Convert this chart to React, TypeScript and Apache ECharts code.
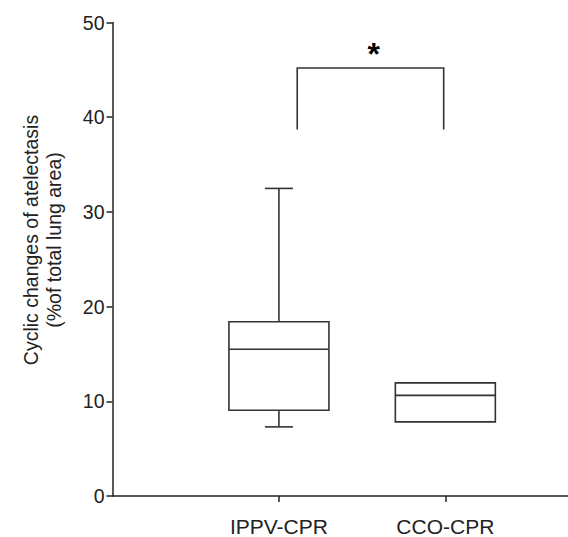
import React, { useEffect, useRef } from "react";
import * as echarts from "echarts";

// Categories placed at x = 1, 2 on a value axis
const categories = ["IPPV-CPR", "CCO-CPR"];
const categoryX = [1, 2];
const whiskerLow = [7.3, 7.83];
const q1 = [9.05, 7.83];
const median = [15.49, 10.63];
const q3 = [18.4, 11.95];
const whiskerHigh = [32.48, 11.95];

// significance bracket
const bracketX = [1.11, 1.99];
const bracketBottom = [38.7, 38.7];
const bracketTop = 45.2;
const starPos = [1.57, 46.7];

const yTicks = [0, 10, 20, 30, 40, 50];

const FONT = "'Liberation Sans', Arial, sans-serif";
const LINE = "#333333";

export default function App() {
  const ref = useRef<HTMLDivElement>(null);
  useEffect(() => {
    if (!ref.current) return;
    const chart = echarts.init(ref.current, null, { renderer: "svg" });
    const boxData = categoryX.map((x, i) => [
      x,
      whiskerLow[i],
      q1[i],
      median[i],
      q3[i],
      whiskerHigh[i],
    ]);
    const option: any = {
      animation: false,
      backgroundColor: "#ffffff",
      grid: { left: 112.5, right: 0, top: 22.5, bottom: 38.5 },
      xAxis: {
        type: "value",
        min: 0,
        max: 2.737,
        interval: 1,
        splitLine: { show: false },
        axisLine: { show: true, lineStyle: { color: "#222", width: 1.5 } },
        axisTick: {
          show: true,
          customValues: categoryX,
          length: 6,
          inside: false,
          lineStyle: { color: "#222", width: 1.5 },
        },
        axisLabel: {
          customValues: categoryX,
          formatter: (v: number) => categories[categoryX.indexOf(v)] ?? "",
          fontSize: 21,
          fontFamily: FONT,
          color: "#222",
          margin: 20,
        },
      },
      yAxis: {
        type: "value",
        min: yTicks[0],
        max: yTicks[yTicks.length - 1],
        interval: 10,
        splitLine: { show: false },
        axisLine: { show: true, lineStyle: { color: "#222", width: 1.5 } },
        axisTick: { show: true, length: 6, lineStyle: { color: "#222", width: 1.5 } },
        axisLabel: { fontSize: 19.5, fontFamily: FONT, color: "#222", margin: 8 },
      },
      graphic: [
        {
          type: "text",
          x: 42,
          y: 240,
          rotation: Math.PI / 2,
          style: {
            text: "Cyclic changes of atelectasis\n(%of total lung area)",
            font: `19.5px ${FONT}`,
            lineHeight: 23,
            fill: "#222",
            align: "center",
            verticalAlign: "middle",
          },
        },
      ],
      series: [
        {
          type: "custom",
          data: boxData,
          encode: { x: 0, y: [1, 2, 3, 4, 5] },
          renderItem: (params: any, api: any) => {
            const x = api.value(0);
            const lo = api.value(1);
            const b1 = api.value(2);
            const md = api.value(3);
            const b3 = api.value(4);
            const hi = api.value(5);
            const pLo = api.coord([x, lo]);
            const p1 = api.coord([x, b1]);
            const pM = api.coord([x, md]);
            const p3 = api.coord([x, b3]);
            const pHi = api.coord([x, hi]);
            const halfBox = 50;
            const halfCap = 14;
            const style = { stroke: LINE, lineWidth: 1.6, fill: "none" };
            const children: any[] = [
              {
                type: "rect",
                shape: { x: p3[0] - halfBox, y: p3[1], width: halfBox * 2, height: p1[1] - p3[1] },
                style,
              },
              {
                type: "line",
                shape: { x1: pM[0] - halfBox, y1: pM[1], x2: pM[0] + halfBox, y2: pM[1] },
                style,
              },
            ];
            if (hi > b3) {
              children.push(
                { type: "line", shape: { x1: p3[0], y1: p3[1], x2: pHi[0], y2: pHi[1] }, style },
                { type: "line", shape: { x1: pHi[0] - halfCap, y1: pHi[1], x2: pHi[0] + halfCap, y2: pHi[1] }, style }
              );
            }
            if (lo < b1) {
              children.push(
                { type: "line", shape: { x1: p1[0], y1: p1[1], x2: pLo[0], y2: pLo[1] }, style },
                { type: "line", shape: { x1: pLo[0] - halfCap, y1: pLo[1], x2: pLo[0] + halfCap, y2: pLo[1] }, style }
              );
            }
            return { type: "group", children };
          },
        },
        {
          type: "custom",
          data: [[bracketX[0], bracketX[1], bracketBottom[0], bracketBottom[1], bracketTop, starPos[0], starPos[1]]],
          encode: { x: [0, 1], y: [2, 4] },
          renderItem: (params: any, api: any) => {
            const a = api.coord([api.value(0), api.value(2)]);
            const b = api.coord([api.value(0), api.value(4)]);
            const c = api.coord([api.value(1), api.value(4)]);
            const d = api.coord([api.value(1), api.value(3)]);
            const s = api.coord([api.value(5), api.value(6)]);
            return {
              type: "group",
              children: [
                {
                  type: "polyline",
                  shape: { points: [a, b, c, d] },
                  style: { stroke: LINE, lineWidth: 1.6, fill: "none" },
                },
                {
                  type: "text",
                  style: {
                    text: "*",
                    x: s[0],
                    y: s[1],
                    font: `bold 32px ${FONT}`,
                    fill: "#000",
                    align: "center",
                    verticalAlign: "middle",
                  },
                },
              ],
            };
          },
        },
      ],
    };
    chart.setOption(option);
    return () => chart.dispose();
  }, []);
  return (
    <div
      ref={ref}
      style={{ position: "fixed", left: 0, top: 0, width: 568, height: 537, background: "#fff" }}
    />
  );
}
